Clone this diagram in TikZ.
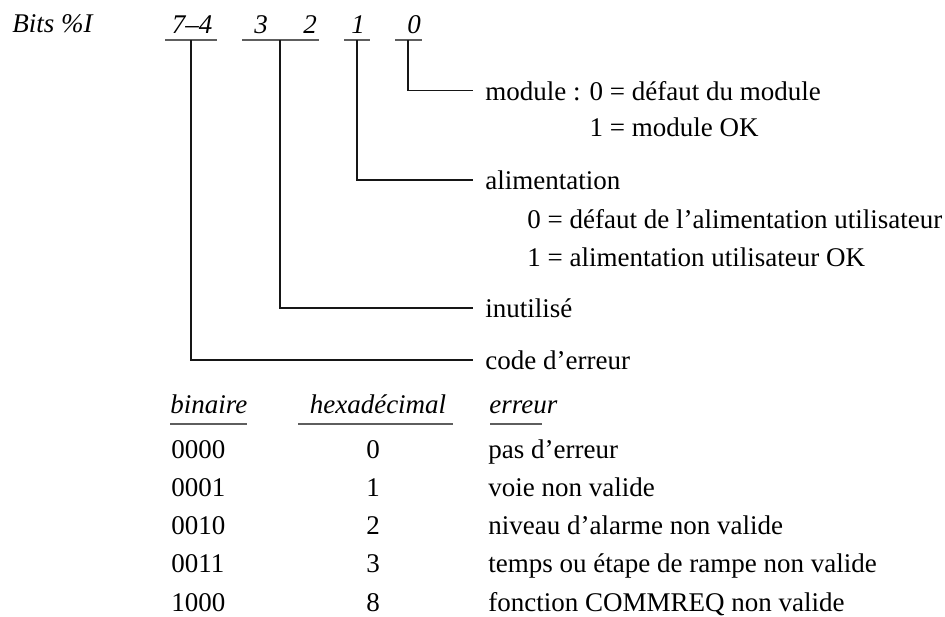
\documentclass[tikz,border=0pt]{standalone}
\usepackage{fontspec}
\setmainfont{Liberation Serif}
\usetikzlibrary{calc}
\definecolor{ink}{HTML}{161616}
\definecolor{rulec}{HTML}{5E5E5E}
\newcommand{\txt}{\fontsize{13.5}{16}\selectfont}

\begin{document}
\begin{tikzpicture}[x=0.5pt,y=-0.5pt,font=\txt,
  bit/.style={anchor=base,inner sep=0,font=\txt\itshape},
  desc/.style={anchor=base west,inner xsep=6pt,inner ysep=0,text height=9.5pt,text depth=0pt},
  cell/.style={anchor=base west,inner sep=0},
  num/.style={anchor=base,inner sep=0},
  wire/.style={ink,line width=0.55pt},
  under/.style={rulec,line width=1pt}]
\useasboundingbox (0,0) rectangle (945,616);
% bit fields
\node[bit,anchor=base west] (bits) at (12,32) {Bits \%I};
\node[bit] (b74) at (192,33) {7–4};
\node[bit] (b3) at (261,33) {3};
\node[bit] (b2) at (310,33) {2};
\node[bit] (b1) at (358,33) {1};
\node[bit] (b0) at (414,33) {0};
\draw[under] (165,40) -- (217,40);
\draw[under] (242,40) -- (319,40);
\draw[under] (344,40) -- (370,40);
\draw[under] (395,40) -- (422,40);
\coordinate (t74) at (191,40);
\coordinate (t32) at (280,40);
\coordinate (t1) at (357,40);
\coordinate (t0) at (408,40);
% descriptions
\node[desc] (mod) at (473,100) {module : 0 = défaut du module};
\node[desc] (modok) at (473,136) {\hphantom{module : }1 = module OK};
\node[desc] (alim) at (473,189.5) {alimentation};
\node[desc] (alim0) at (515,228) {0 = défaut de l’alimentation utilisateur};
\node[desc] (alim1) at (515,266) {1 = alimentation utilisateur OK};
\node[desc] (inut) at (473,317.5) {inutilisé};
\node[desc] (code) at (473,369.5) {code d’erreur};
\draw[wire] (t0) |- (mod.west);
\draw[wire] (t1) |- (alim.west);
\draw[wire] (t32) |- (inut.west);
\draw[wire] (t74) |- (code.west);
% error table
\node[cell,font=\txt\itshape] (hbin) at (170,413) {binaire};
\node[num,font=\txt\itshape] (hhex) at (378,413) {hexadécimal};
\node[cell,font=\txt\itshape] (herr) at (489,413) {erreur};
\draw[under] (170,424) -- (247,424);
\draw[under] (298,424) -- (453,424);
\draw[under] (490,424) -- (542,424);
\node[cell] (bin0) at (171,458) {0000};
\node[num] (hex0) at (373,458) {0};
\node[cell] (err0) at (488,458) {pas d’erreur};
\node[cell] (bin1) at (171,496.25) {0001};
\node[num] (hex1) at (373,496.25) {1};
\node[cell] (err1) at (488,496.25) {voie non valide};
\node[cell] (bin2) at (171,534.5) {0010};
\node[num] (hex2) at (373,534.5) {2};
\node[cell] (err2) at (488,534.5) {niveau d’alarme non valide};
\node[cell] (bin3) at (171,572.75) {0011};
\node[num] (hex3) at (373,572.75) {3};
\node[cell] (err3) at (488,572.75) {temps ou étape de rampe non valide};
\node[cell] (bin4) at (171,611) {1000};
\node[num] (hex4) at (373,611) {8};
\node[cell] (err4) at (488,611) {fonction COMMREQ non valide};
\end{tikzpicture}
\end{document}
